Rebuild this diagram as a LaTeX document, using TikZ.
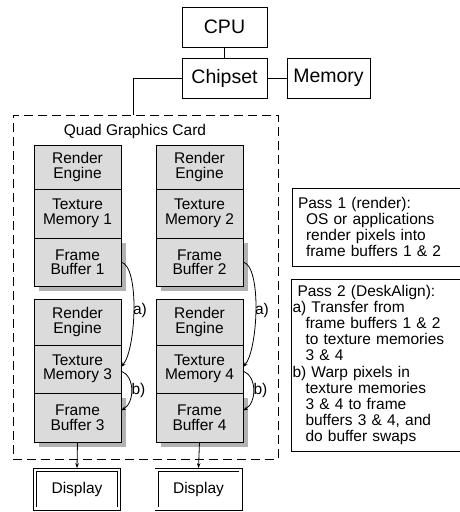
\documentclass[tikz,border=0pt]{standalone}
\usepackage{fontspec}
\setmainfont{Liberation Sans}
\usetikzlibrary{arrows.meta,shadows}
\definecolor{unitfill}{gray}{0.86}
\definecolor{shadowgray}{gray}{0.70}
\begin{document}
\begin{tikzpicture}[x=1pt,y=-1pt,
  hostbox/.style={draw, line width=0.9pt, minimum height=40pt, inner sep=0pt,
    outer sep=0pt, font=\fontsize{19.5}{20}\selectfont},
  unit/.style={draw, line width=0.8pt, fill=unitfill, minimum width=87pt,
    inner sep=0pt, outer sep=0pt, align=center,
    font=\fontsize{15.5}{14.5}\selectfont},
  fbuf/.style={unit, drop shadow={shadow xshift=5pt, shadow yshift=-5pt,
    fill=shadowgray, opacity=1}},
  card/.style={draw, line width=0.8pt, dash pattern=on 9pt off 5pt,
    inner sep=0pt, outer sep=0pt},
  display/.style={draw, line width=0.9pt, double, double distance=2.2pt,
    minimum width=84pt, minimum height=38.5pt, inner sep=0pt, outer sep=1.9pt,
    font=\fontsize{15.5}{16}\selectfont},
  note/.style={draw, line width=0.9pt, anchor=north west, inner sep=0pt,
    outer sep=0pt, text width=172pt, align=left,
    font=\fontsize{15.5}{16.2}\selectfont},
  lbl/.style={inner sep=0pt, font=\fontsize{15.5}{16}\selectfont},
  link/.style={line width=0.8pt},
  flow/.style={line width=0.8pt, -{Stealth[length=5pt,width=3.5pt]}}
]
\useasboundingbox (0,0) rectangle (459,512);

% host side
\node[hostbox, minimum width=85pt] (cpu)  at (224.5,27) {CPU};
\node[hostbox, minimum width=85pt] (chip) at (224.5,78) {Chipset};
\node[hostbox, minimum width=83pt] (mem)  at (328.5,78) {Memory};

% graphics card outline
\node[card, minimum width=265pt, minimum height=344pt] (card) at (145.5,287) {};
\node[lbl] (cardname) at (135,131) {Quad Graphics Card};

\draw[link] (cpu.south) -- (chip.north);
\draw[link] (chip.east) -- (mem.west);
\draw[link] (chip.west) -| ([xshift=-12.5pt]card.north);

% left column
\node[unit, minimum height=44pt] (re1) at (77.5,167)   {Render\\Engine};
\node[unit, minimum height=49pt] (tm1) at (77.5,213.5) {Texture\\Memory 1};
\node[fbuf, minimum height=48pt] (fb1) at (77.5,262)   {Frame\\Buffer 1};
\node[unit, minimum height=46pt] (re3) at (77.5,322)   {Render\\Engine};
\node[unit, minimum height=48pt] (tm3) at (77.5,369)   {Texture\\Memory 3};
\node[fbuf, minimum height=49pt] (fb3) at (77.5,417.5) {Frame\\Buffer 3};

% right column
\node[unit, minimum height=44pt] (re2) at (199.5,167)   {Render\\Engine};
\node[unit, minimum height=49pt] (tm2) at (199.5,213.5) {Texture\\Memory 2};
\node[fbuf, minimum height=48pt] (fb2) at (199.5,262)   {Frame\\Buffer 2};
\node[unit, minimum height=46pt] (re4) at (199.5,322)   {Render\\Engine};
\node[unit, minimum height=48pt] (tm4) at (199.5,369)   {Texture\\Memory 4};
\node[fbuf, minimum height=49pt] (fb4) at (199.5,417.5) {Frame\\Buffer 4};

% transfers (a) and warps (b)
\draw[flow] (fb1.east) .. controls +(19,4) and +(15,-17) .. ([yshift=2pt]tm3.east);
\draw[flow] ([yshift=-2pt]tm3.east) .. controls +(14,5) and +(14,-8) .. ([yshift=7pt]fb3.east);
\draw[flow] (fb2.east) .. controls +(19,4) and +(15,-17) .. ([yshift=2pt]tm4.east);
\draw[flow] ([yshift=-2pt]tm4.east) .. controls +(14,5) and +(14,-8) .. ([yshift=7pt]fb4.east);
\node[lbl] (la1) at (140,310) {a)};
\node[lbl] (lb1) at (138.5,390) {b)};
\node[lbl] (la2) at (262,310) {a)};
\node[lbl] (lb2) at (260.5,390) {b)};

% displays
\node[display] (d1) at (77,489.3)  {Display};
\node[display] (d2) at (198.5,489.3) {Display};
\draw[flow] (fb3.south) -- (d1.north);
\draw[flow] (fb4.south) -- (d2.north);

% pass descriptions
\node[note, minimum height=78pt] (pass1) at (292,188) {%
\hspace*{6pt}Pass 1 (render):\\
\hspace*{14pt}OS or applications\\
\hspace*{14pt}render pixels into\\
\hspace*{14pt}frame buffers 1 \& 2};
\node[note, minimum height=172pt] (pass2) at (291,279) {%
\hspace*{6.5pt}Pass 2 (DeskAlign):\\
\hspace*{1.5pt}a) Transfer from\\
\hspace*{14.5pt}frame buffers 1 \& 2\\
\hspace*{14.5pt}to texture memories\\
\hspace*{14.5pt}3 \& 4\\
\hspace*{1.5pt}b) Warp pixels in\\
\hspace*{14.5pt}texture memories\\
\hspace*{14.5pt}3 \& 4 to frame\\
\hspace*{14.5pt}buffers 3 \& 4, and\\
\hspace*{14.5pt}do buffer swaps};
\end{tikzpicture}
\end{document}
